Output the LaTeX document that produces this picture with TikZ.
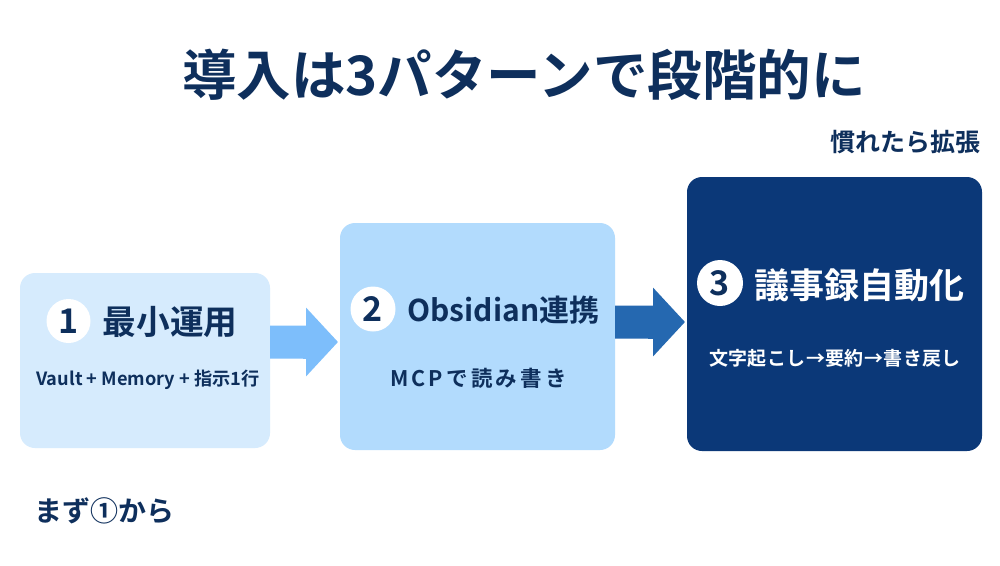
\documentclass[tikz,border=0pt]{standalone}
\usepackage{fontspec}
\setmainfont{Noto Sans CJK JP}[BoldFont={* Bold}]
\usetikzlibrary{arrows.meta}
\definecolor{navytext}{HTML}{0E2F5C}
\definecolor{boxone}{HTML}{D6EBFD}
\definecolor{boxtwo}{HTML}{B2DBFD}
\definecolor{boxthree}{HTML}{0B3878}
\definecolor{arrowone}{HTML}{7DBEFB}
\definecolor{arrowtwo}{HTML}{2568B0}
\tikzset{
    stage/.style={rounded corners=15pt,inner sep=0pt,outer sep=0pt,anchor=north west},
    badge/.style={circle,fill=white,text=navytext,inner sep=0pt,minimum size=#1,font=\bfseries\fontsize{34}{34}\selectfont},
    head/.style={text=navytext,inner sep=0pt,font=\bfseries\fontsize{#1}{#1}\selectfont},
    sub/.style={text=navytext,inner sep=0pt,font=\bfseries\fontsize{#1}{#1}\selectfont},
    blockarrow/.style={line width=33pt,shorten >=2pt,{Butt Cap}-{Triangle[length=32pt,width=67pt]}},
}
\begin{document}
\begin{tikzpicture}[x=1pt,y=-1pt]
    \useasboundingbox[fill=white] (0,0) rectangle (1000,565);

    \node[head=54.5] (title) at (524,75) {導入は3パターンで段階的に};
    \node[sub=25] (later) at (905,142) {慣れたら拡張};
    \node[sub=28] (first) at (104.5,511) {まず①から};

    \node[stage,fill=boxone,minimum width=250pt,minimum height=175pt] (box1) at (20,273) {};
    \node[stage,fill=boxtwo,minimum width=275pt,minimum height=227pt] (box2) at (340,223) {};
    \node[stage,fill=boxthree,minimum width=295pt,minimum height=274pt] (box3) at (687,177) {};

    \node[badge=44pt] (n1) at (68.5,321) {1};
    \node[badge=45pt] (n2) at (373,309) {2};
    \node[badge=46pt] (n3) at (720,283) {3};

    \node[head=33.7] (t1) at (170,322) {最小運用};
    \node[head=30] (t2) at (503.5,310) {Obsidian連携};
    \node[head=35,text=white] (t3) at (859,285) {議事録自動化};

    \node[sub=18.2] (s1) at (148,380) {Vault + Memory + 指示1行};
    \node[sub=21.5] (s2) at (478.5,378) {\addfontfeature{LetterSpace=15}MCPで読み書き};
    \node[sub=19,text=white] (s3) at (835,358) {\addfontfeature{LetterSpace=2}文字起こし→要約→書き戻し};

    \coordinate (a1) at (0,342);
    \coordinate (a2) at (0,322);
    \draw[blockarrow,arrowone] (box1.east |- a1) -- (box2.west |- a1);
    \draw[blockarrow,arrowtwo] (box2.east |- a2) -- (box3.west |- a2);
\end{tikzpicture}
\end{document}
